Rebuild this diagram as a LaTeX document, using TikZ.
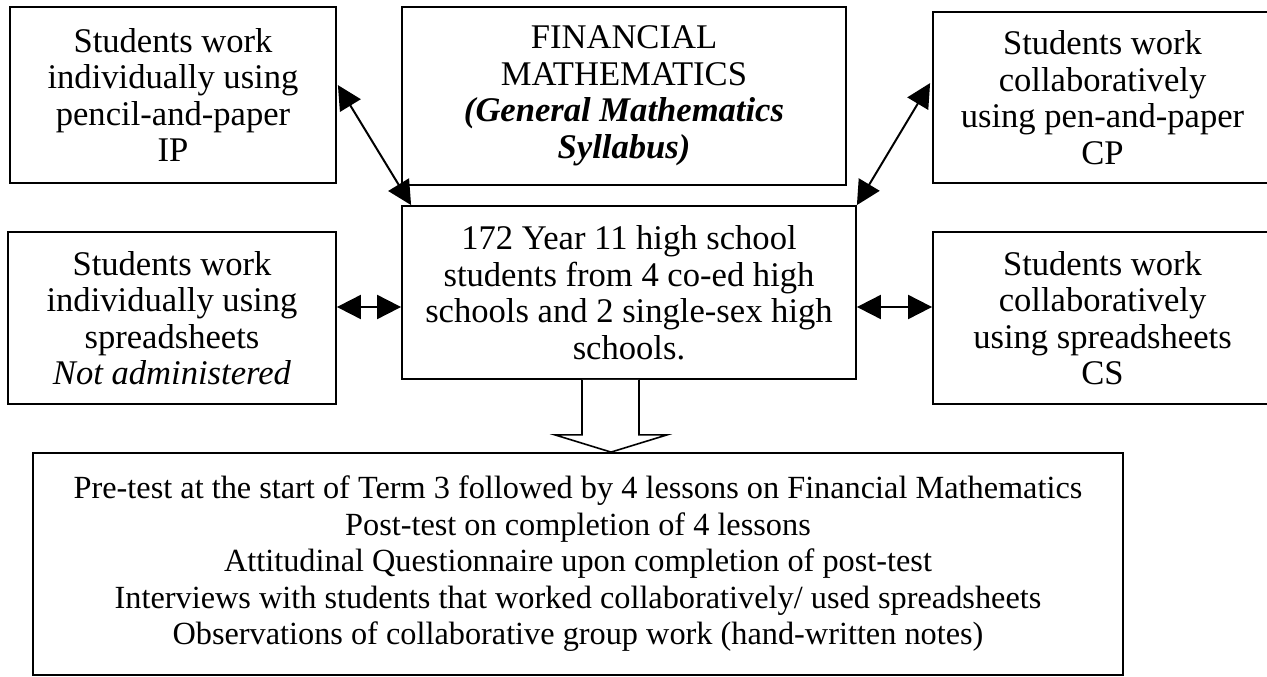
\documentclass[tikz,border=0pt]{standalone}
\usepackage{fontspec}
\setmainfont{Liberation Serif}
\usetikzlibrary{arrows.meta,calc}
\tikzset{
  box/.style={draw, line width=1.8pt, align=center, inner sep=0pt,
    font=\fontsize{34.6}{36.5}\selectfont},
  bigbox/.style={draw, line width=1.8pt, align=center, inner sep=0pt,
    font=\fontsize{32.3}{36.5}\selectfont},
  link/.style={line width=2pt, {Triangle[length=24pt,width=24pt]}-{Triangle[length=24pt,width=24pt]}},
  blockarrow/.style={draw, line width=1.6pt, fill=white, line join=miter}
}
\begin{document}
\begin{tikzpicture}[x=1pt,y=-1pt]
\useasboundingbox (0,0) rectangle (1267,677);
\fill[white] (0,0) rectangle (1267,677);
\clip (0,0) rectangle (1267,677);

\node[box, minimum width=326pt, minimum height=176pt] (ip) at (173,95)
  {Students work\\individually using\\pencil-and-paper\\IP};
\node[box, minimum width=444pt, minimum height=178pt] (fin) at (624,96)
  {FINANCIAL\\MATHEMATICS\\\textbf{\textit{(General Mathematics}}\\\textbf{\textit{Syllabus)}}};
\node[box, minimum width=339pt, minimum height=171pt] (cp) at (1102.5,97.5)
  {Students work\\collaboratively\\using pen-and-paper\\CP};
\node[box, minimum width=328pt, minimum height=172pt] (is) at (172,318)
  {Students work\\individually using\\spreadsheets\\\textit{Not administered}};
\node[box, minimum width=454pt, minimum height=173pt] (ctr) at (629,292.5)
  {172 Year 11 high school\\students from 4 co-ed high\\schools and 2 single-sex high\\schools.};
\node[box, minimum width=339pt, minimum height=172pt] (cs) at (1102.5,318)
  {Students work\\collaboratively\\using spreadsheets\\CS};
\node[bigbox, minimum width=1090pt, minimum height=222pt] (bot) at (578,564)
  {Pre-test at the start of Term 3 followed by 4 lessons on Financial Mathematics\\
   Post-test on completion of 4 lessons\\
   Attitudinal Questionnaire upon completion of post-test\\
   Interviews with students that worked collaboratively/ used spreadsheets\\
   Observations of collaborative group work (hand-written notes)};

% connectors
\coordinate (hy) at (0,307);
\draw[link] ($(ip.north east)+(1,79)$) -- ($(ctr.north west)+(10,0)$);
\draw[link] ($(cp.north west)+(-2,72)$) -- (ctr.north east);
\draw[link] (is.east |- hy) -- (ctr.west |- hy);
\draw[link] (ctr.east |- hy) -- (cs.west |- hy);

% block arrow
\coordinate (ba) at (611,0);
\draw[blockarrow]
  ($(ba |- ctr.south)+(-29,0)$) -- ($(ba |- ctr.south)+(-29,55)$)
  -- ($(ba |- ctr.south)+(-56,55)$) -- (ba |- bot.north)
  -- ($(ba |- ctr.south)+(56,55)$) -- ($(ba |- ctr.south)+(28,55)$)
  -- ($(ba |- ctr.south)+(28,0)$);
\end{tikzpicture}
\end{document}
